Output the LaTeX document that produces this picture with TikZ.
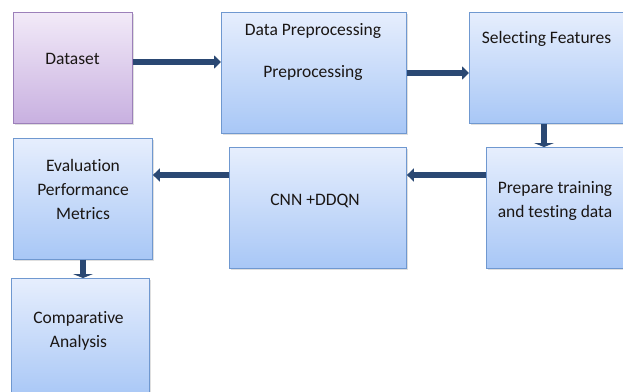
\documentclass[tikz,border=0pt]{standalone}
\usepackage{fontspec}
\setmainfont[Ligatures=NoCommon]{Carlito}
\usetikzlibrary{arrows.meta,shadows}

\definecolor{boxtop}{HTML}{E6EEFD}
\definecolor{boxbot}{HTML}{A8C7F6}
\definecolor{boxline}{HTML}{6F98D0}
\definecolor{dstop}{HTML}{F2EAF8}
\definecolor{dsbot}{HTML}{C8B0E0}
\definecolor{dsline}{HTML}{9C80BA}
\definecolor{arrowfill}{HTML}{2A4873}
\definecolor{txt}{HTML}{1A1614}

\tikzset{
  stagebox/.style={draw=boxline, line width=0.9pt, top color=boxtop, bottom color=boxbot,
    anchor=north west, inner sep=0pt,
    drop shadow={opacity=0.25, shadow xshift=1.5pt, shadow yshift=-1.5pt}},
  databox/.style={stagebox, draw=dsline, top color=dstop, bottom color=dsbot},
  lbl/.style={anchor=base, inner sep=0pt, text=txt, font=\fontsize{17.5}{24}\selectfont},
  flow/.style={draw=arrowfill, line width=5.5pt,
    -{Triangle[width=13pt,length=7pt]}},
  shortflow/.style={draw=arrowfill, line width=5.5pt,
    -{Triangle[width=20pt,length=4pt]}},
}

\begin{document}
\begin{tikzpicture}[x=1pt,y=-1pt]
  \useasboundingbox (0,0) rectangle (623,391);

  % boxes
  \node[databox, minimum width=119pt, minimum height=111pt] (ds) at (13,12) {};
  \node[stagebox, minimum width=185pt, minimum height=121pt] (dp) at (221,12) {};
  \node[stagebox, minimum width=160pt, minimum height=111pt] (sf) at (469,12) {};
  \node[stagebox, minimum width=145pt, minimum height=121pt] (pt) at (486,147) {};
  \node[stagebox, minimum width=177pt, minimum height=121pt] (cnn) at (229,147) {};
  \node[stagebox, minimum width=139pt, minimum height=121pt] (ev) at (13,138) {};
  \node[stagebox, minimum width=138pt, minimum height=120pt] (ca) at (11,278) {};

  % labels
  \node[lbl] (tds) at (72.5,64) {Dataset};
  \node[lbl] (tdp1) at (313,35) {Data Preprocessing};
  \node[lbl] (tdp2) at (313,77) {Preprocessing};
  \node[lbl] (tsf) at (546.5,43) {Selecting Features};
  \node[lbl] (tpt1) at (555,193) {Prepare training};
  \node[lbl] (tpt2) at (555,217) {and testing data};
  \node[lbl] (tcnn) at (315,205) {CNN +DDQN};
  \node[lbl] (tev1) at (83,171) {Evaluation};
  \node[lbl] (tev2) at (83,195) {Performance};
  \node[lbl] (tev3) at (83,219) {Metrics};
  \node[lbl] (tca1) at (78.5,323) {Comparative};
  \node[lbl] (tca2) at (78.5,347) {Analysis};

  % connectors
  \draw[flow] (ds.east |- 0,62) -- (dp.west |- 0,62);
  \draw[flow] (dp.east |- 0,73) -- (sf.west |- 0,73);
  \draw[shortflow] (sf.south -| 544,0) -- (pt.north -| 544,0);
  \draw[flow] (pt.west |- 0,175) -- (cnn.east |- 0,175);
  \draw[flow] (cnn.west |- 0,175) -- (ev.east |- 0,175);
  \draw[shortflow] (ev.south -| 83,0) -- (ca.north -| 83,0);
\end{tikzpicture}
\end{document}
